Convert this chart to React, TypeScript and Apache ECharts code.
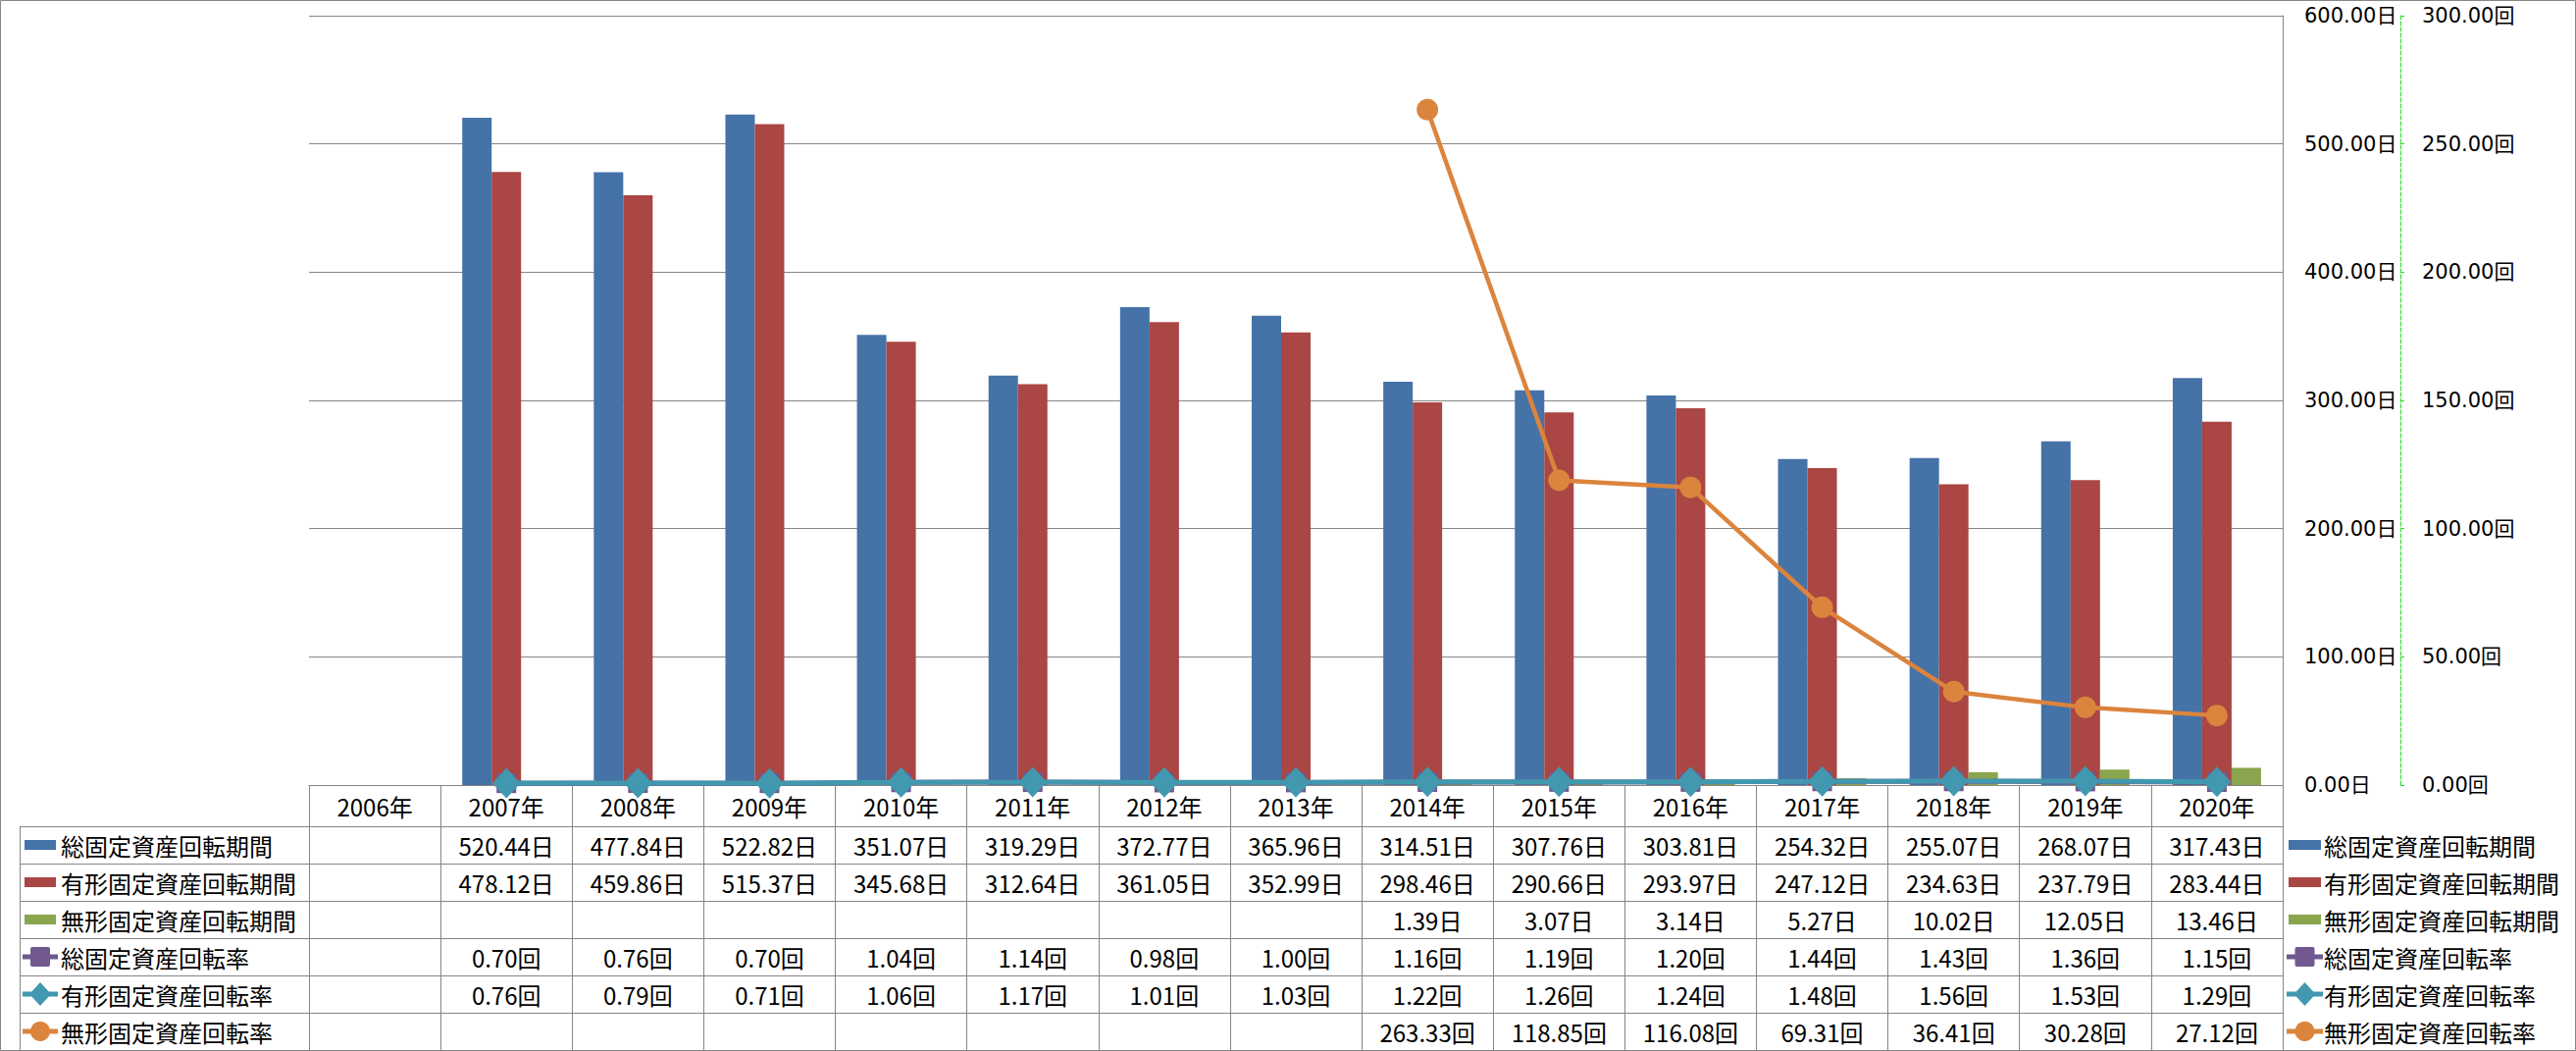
import React, { useEffect, useRef } from 'react';
import * as echarts from 'echarts';

const years = ['2006年', '2007年', '2008年', '2009年', '2010年', '2011年', '2012年', '2013年', '2014年', '2015年', '2016年', '2017年', '2018年', '2019年', '2020年'];
const totalPeriod = [null, 520.44, 477.84, 522.82, 351.07, 319.29, 372.77, 365.96, 314.51, 307.76, 303.81, 254.32, 255.07, 268.07, 317.43];
const tangiblePeriod = [null, 478.12, 459.86, 515.37, 345.68, 312.64, 361.05, 352.99, 298.46, 290.66, 293.97, 247.12, 234.63, 237.79, 283.44];
const intangiblePeriod = [null, null, null, null, null, null, null, null, 1.39, 3.07, 3.14, 5.27, 10.02, 12.05, 13.46];
const totalRate = [null, 0.70, 0.76, 0.70, 1.04, 1.14, 0.98, 1.00, 1.16, 1.19, 1.20, 1.44, 1.43, 1.36, 1.15];
const tangibleRate = [null, 0.76, 0.79, 0.71, 1.06, 1.17, 1.01, 1.03, 1.22, 1.26, 1.24, 1.48, 1.56, 1.53, 1.29];
const intangibleRate = [null, null, null, null, null, null, null, null, 263.33, 118.85, 116.08, 69.31, 36.41, 30.28, 27.12];

const seriesNames = ['総固定資産回転期間', '有形固定資産回転期間', '無形固定資産回転期間', '総固定資産回転率', '有形固定資産回転率', '無形固定資産回転率'];
const seriesData = [totalPeriod, tangiblePeriod, intangiblePeriod, totalRate, tangibleRate, intangibleRate];
const seriesUnits = ['日', '日', '日', '回', '回', '回'];
const seriesKinds = ['bar', 'bar', 'bar', 'rect', 'diamond', 'circle'];
const colors = ['#4572A7', '#AA4643', '#89A54E', '#71588F', '#4198AF', '#DB843D'];

const dayAxis = { min: 0, max: 600, interval: 100, unit: '日' };
const rateAxis = { min: 0, max: 300, interval: 50, unit: '回' };

const W = 2626;
const H = 1071;
const GRID_LEFT = 315;
const GRID_RIGHT_X = 2327;
const GRID_TOP = 16;
const GRID_BOTTOM_Y = 800;
const HEADER_H = 42;
const ROW_H = 38;
const TABLE_LEFT = 20.5;
const GREY = '#868686';
const CJK = '"Noto Sans CJK JP", "Noto Sans", sans-serif';
const AXISFONT = '"DejaVu Sans", "Noto Sans CJK JP", sans-serif';

function legendIcon(kind: string, color: string, x0: number, x1: number, cy: number): any[] {
  const cx = (x0 + x1) / 2;
  if (kind === 'bar') {
    return [{ type: 'rect', silent: true, shape: { x: x0, y: cy - 5, width: x1 - x0, height: 10 }, style: { fill: color } }];
  }
  const els: any[] = [
    { type: 'line', silent: true, shape: { x1: x0 - 2, y1: cy, x2: x1 + 2, y2: cy }, style: { stroke: color, lineWidth: 5 } },
  ];
  if (kind === 'rect') {
    els.push({ type: 'rect', silent: true, shape: { x: cx - 10, y: cy - 10, width: 20, height: 20, r: 2 }, style: { fill: color } });
  } else if (kind === 'diamond') {
    els.push({ type: 'polygon', silent: true, shape: { points: [[cx, cy - 12], [cx + 11, cy], [cx, cy + 12], [cx - 11, cy]] }, style: { fill: color } });
  } else {
    els.push({ type: 'circle', silent: true, shape: { cx, cy, r: 10 }, style: { fill: color } });
  }
  return els;
}

export default function App() {
  const ref = useRef<HTMLDivElement>(null);
  useEffect(() => {
    document.body.style.margin = '0';
    const chart = echarts.init(ref.current!, null, { renderer: 'svg', width: W, height: H });
    const lineSizes: any = { rect: 20, diamond: [29, 31], circle: 22 };
    const series: any[] = seriesNames.map((name, i) => {
      const kind = seriesKinds[i];
      if (kind === 'bar') {
        return {
          name, type: 'bar', data: seriesData[i], yAxisIndex: 0,
          barWidth: 30, barGap: '0%',
          itemStyle: { color: colors[i] },
        };
      }
      return {
        name, type: 'line', data: seriesData[i], yAxisIndex: 1,
        symbol: kind, symbolSize: lineSizes[kind], showSymbol: true, clip: false,
        lineStyle: { color: colors[i], width: kind === 'circle' ? 4.5 : 5 },
        itemStyle: { color: colors[i] },
        z: 3 + i,
      };
    });
    chart.setOption({
      animation: false,
      backgroundColor: '#ffffff',
      grid: { left: GRID_LEFT, right: W - GRID_RIGHT_X, top: GRID_TOP, bottom: H - GRID_BOTTOM_Y, containLabel: false },
      xAxis: {
        type: 'category', data: years, boundaryGap: true,
        axisLine: { show: true, lineStyle: { color: GREY, width: 1 } },
        axisTick: { show: true, interval: 0, alignWithLabel: false, length: H - 1 - GRID_BOTTOM_Y, lineStyle: { color: GREY, width: 1 } },
        axisLabel: { interval: 0, margin: 9, fontSize: 24, lineHeight: 24, fontFamily: CJK, color: '#000' },
        splitLine: { show: false },
      },
      yAxis: [
        {
          type: 'value', position: 'right', min: dayAxis.min, max: dayAxis.max, interval: dayAxis.interval,
          axisLine: { show: true, lineStyle: { color: GREY, width: 1 } },
          axisTick: { show: false },
          axisLabel: { margin: 22, fontSize: 21, fontFamily: AXISFONT, color: '#000', formatter: (v: number) => v.toFixed(2) + dayAxis.unit },
          splitLine: { show: true, lineStyle: { color: GREY, width: 1 } },
        },
        {
          type: 'value', position: 'right', offset: 120, min: rateAxis.min, max: rateAxis.max, interval: rateAxis.interval,
          axisLine: { show: true, lineStyle: { color: '#22dd22', width: 1, type: [4, 2] } },
          axisTick: { show: true, inside: false, length: 4, lineStyle: { color: '#22dd22', width: 1 } },
          axisLabel: { margin: 22, fontSize: 21, fontFamily: AXISFONT, color: '#000', formatter: (v: number) => v.toFixed(2) + rateAxis.unit },
          splitLine: { show: false },
        },
      ],
      series,
    });

    const centers = years.map((_, i) => chart.convertToPixel({ xAxisIndex: 0 }, i) as number);
    const zeroY = chart.convertToPixel({ yAxisIndex: 0 }, 0) as number;
    const rightX = GRID_RIGHT_X;
    const graphics: any[] = [];
    graphics.push({ type: 'rect', silent: true, z: -10, shape: { x: 0.5, y: 0.5, width: W - 1, height: H - 1 }, style: { fill: 'none', stroke: GREY, lineWidth: 1 } });
    const rowsTop = zeroY + HEADER_H;
    for (let r = 0; r <= seriesNames.length; r++) {
      const y = Math.round(rowsTop + r * ROW_H) + 0.5;
      graphics.push({ type: 'line', silent: true, shape: { x1: TABLE_LEFT, y1: y, x2: rightX, y2: y }, style: { stroke: GREY, lineWidth: 1 } });
    }
    graphics.push({ type: 'line', silent: true, shape: { x1: TABLE_LEFT, y1: rowsTop, x2: TABLE_LEFT, y2: rowsTop + seriesNames.length * ROW_H }, style: { stroke: GREY, lineWidth: 1 } });
    seriesNames.forEach((name, r) => {
      const cy = rowsTop + r * ROW_H + ROW_H / 2;
      const kind = seriesKinds[r] === 'bar' ? 'bar' : seriesKinds[r];
      graphics.push(...legendIcon(kind, colors[r], 25, 57, cy));
      graphics.push({ type: 'text', silent: true, style: { x: 62, y: cy, text: name, fontSize: 24, fontFamily: CJK, fill: '#000', align: 'left', verticalAlign: 'middle' } });
      graphics.push(...legendIcon(kind, colors[r], 2333, 2366, cy));
      graphics.push({ type: 'text', silent: true, style: { x: 2369, y: cy, text: name, fontSize: 24, fontFamily: CJK, fill: '#000', align: 'left', verticalAlign: 'middle' } });
      seriesData[r].forEach((v, i) => {
        if (v === null || v === undefined) return;
        graphics.push({ type: 'text', silent: true, style: { x: centers[i], y: cy, text: (v as number).toFixed(2) + seriesUnits[r], fontSize: 24, fontFamily: CJK, fill: '#000', align: 'center', verticalAlign: 'middle' } });
      });
    });
    chart.setOption({ graphic: graphics });
    return () => chart.dispose();
  }, []);
  return <div ref={ref} style={{ width: W, height: H }} />;
}
